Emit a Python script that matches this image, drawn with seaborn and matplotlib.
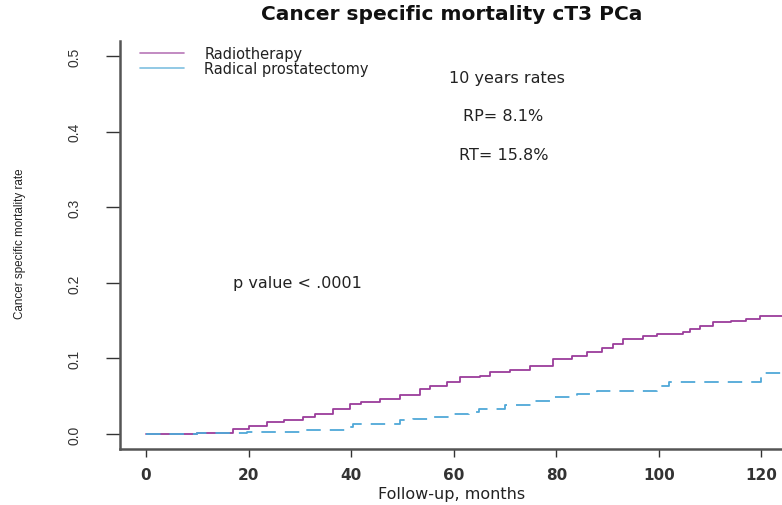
import matplotlib
matplotlib.use("Agg")
import matplotlib.pyplot as plt
import seaborn as sns
import pandas as pd
from matplotlib.lines import Line2D

# Data (step curves)
rt_months = [0, 2, 10, 17, 20, 23.5, 27, 30.6, 33, 36.5, 39.8, 42, 45.6, 49.5, 53.4, 55.4, 58.6,
             61.2, 65.1, 67, 71, 74.9, 79.3, 83, 86, 89, 91, 93, 96.9, 99.6, 104.7, 106,
             108, 110.5, 114, 117, 119.7, 126]
rt_rate = [0.0, 0.0, 0.002, 0.0066, 0.011, 0.016, 0.019, 0.022, 0.027, 0.033, 0.040, 0.043,
           0.046, 0.051, 0.060, 0.064, 0.069, 0.075, 0.077, 0.082, 0.085, 0.090, 0.099,
           0.103, 0.108, 0.114, 0.119, 0.126, 0.130, 0.132, 0.135, 0.139, 0.143, 0.148,
           0.150, 0.152, 0.156, 0.158]

rp_months = [0, 10, 19.7, 30, 39, 40.4, 45.6, 49.5, 52, 56, 59.8, 63, 65, 70, 75.5, 79.3,
             84, 88, 96.3, 99.6, 102, 118.4, 120, 126]
rp_rate = [0.0, 0.001, 0.003, 0.005, 0.009, 0.013, 0.013, 0.018, 0.020, 0.023, 0.026, 0.029,
           0.033, 0.038, 0.044, 0.049, 0.053, 0.057, 0.057, 0.064, 0.069, 0.069, 0.081, 0.081]

series_names = ["Radiotherapy", "Radical prostatectomy"]
series_colors = ["#9b3d9b", "#4fa8d8"]
legend_colors = ["#b877b8", "#7fc0e0"]

x_ticks = [0, 20, 40, 60, 80, 100, 120]
y_ticks = [0.0, 0.1, 0.2, 0.3, 0.4, 0.5]

title = "Cancer specific mortality cT3 PCa"
x_label = "Follow-up, months"
y_label = "Cancer specific mortality rate"
annotations = [("10 years rates", 70.4, 0.472), ("RP= 8.1%", 69.6, 0.421),
               ("RT= 15.8%", 69.8, 0.370), ("p value < .0001", 29.6, 0.201)]

sns.set_style("white")
plt.rcParams['font.family'] = ['DejaVu Sans']

fig = plt.figure(figsize=(7.82, 5.06), dpi=100)
ax = fig.add_axes([120 / 782, 56 / 506, 664 / 782, 408 / 506])

df_rt = pd.DataFrame({"month": rt_months, "rate": rt_rate})
df_rp = pd.DataFrame({"month": rp_months, "rate": rp_rate})

sns.lineplot(data=df_rt, x="month", y="rate", ax=ax, color=series_colors[0],
             drawstyle="steps-post", linewidth=1.3)
sns.lineplot(data=df_rp, x="month", y="rate", ax=ax, color=series_colors[1],
             drawstyle="steps-post", linewidth=1.3)
ax.lines[-1].set_dashes([8, 5])

handles = [Line2D([], [], color=c, lw=1.2) for c in legend_colors]

ax.set_xlim(-5.07, 124.4)
ax.set_ylim(-0.0198, 0.520)
ax.set_xticks(x_ticks)
ax.set_xticklabels([str(t) for t in x_ticks], fontsize=11, fontweight="bold", color="#333333")
ax.set_yticks(y_ticks)
ax.set_yticklabels([f"{t:.1f}" for t in y_ticks], fontsize=10, rotation=90, va="center",
                   color="#333333", family="Liberation Sans")
ax.tick_params(axis="x", direction="out", length=6, width=1, pad=7, colors="#333333",
               bottom=True)
ax.tick_params(axis="y", direction="out", length=10, width=1, pad=18, colors="#333333",
               left=True)

for s in ["top", "right"]:
    ax.spines[s].set_visible(False)
for s in ["left", "bottom"]:
    ax.spines[s].set_color("#555555")
    ax.spines[s].set_linewidth(1.8)

ax.set_xlabel("")
ax.set_ylabel("")
fig.text(452 / 782, 1 - 495 / 506, x_label, ha="center", va="center", fontsize=11.5,
         color="#222222")
fig.text(20 / 782, 1 - 244 / 506, y_label, ha="center", va="center", rotation=90,
         fontsize=8.4, family="Liberation Sans", color="#222222")
fig.text(452 / 782, 1 - 15 / 506, title, ha="center", va="center", fontsize=14.5,
         fontweight="bold", color="#111111")

for txt, xv, yv in annotations:
    ax.text(xv, yv, txt, ha="center", va="center", fontsize=11.5, color="#222222")

leg = ax.legend(handles, series_names, loc="upper left",
                bbox_to_anchor=(140 / 782, 1 - 47 / 506), bbox_transform=fig.transFigure,
                frameon=False, fontsize=10.5, handlelength=3.0, handletextpad=1.4,
                labelspacing=0.0, borderpad=0, borderaxespad=0)
for t in leg.get_texts():
    t.set_color("#222222")

fig.savefig("out.png", dpi=100)
